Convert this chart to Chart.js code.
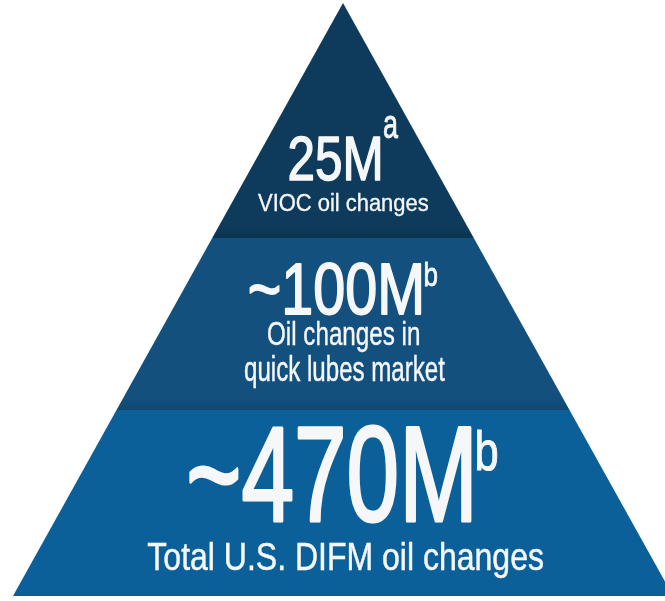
<!DOCTYPE html>
<html lang="en">
  <head>
    <meta charset="UTF-8" />
    <title>Oil change pyramid</title>
    <style>
      * {
        margin: 0;
        padding: 0;
        box-sizing: border-box;
      }

      body {
        background: #fff;
        width: 665px;
        height: 601px;
        overflow: hidden;
      }

      .wrapper {
        position: relative;
        width: 665px;
        height: 601px;
      }
    </style>
  </head>

  <body>
    <div class="wrapper">
      <canvas id="pyramid" width="665" height="601"></canvas>
    </div>

    <script src="https://cdn.jsdelivr.net/npm/chart.js@4/dist/chart.umd.min.js"></script>
    <script>
      // Layers, from the top of the pyramid down
      const values = ["25M", "~100M", "~470M"];
      const notes = ["a", "b", "b"];
      const captions = [
        ["VIOC oil changes"],
        ["Oil changes in", "quick lubes market"],
        ["Total U.S. DIFM oil changes"],
      ];

      // Where each layer starts and ends, measured up from the base
      const layerBottoms = [358, 186, 0];
      const layerTops = [593, 358, 186];

      // Shape and look
      const apex = 593;
      const halfBase = 330;
      const layerColors = ["#0e3a5c", "#13507e", "#0c6099"];
      const shadeColors = ["#0b3352", "#10476f", "#0c6099"];
      const fontFamily = '"Liberation Sans Narrow", "Liberation Sans", Arial, sans-serif';

      // Text boxes: x offsets from the centre line, heights from the base
      // [left, right, top, baseline, extra stroke]
      const valueBoxes = [
        [-53, 37, 460, 416, 1.2],
        [-93, 78, 333, 282, 1.4],
        [-153, 128, 170, 75, 2.2],
      ];
      const noteBoxes = [
        [41, 55, 480, 458, 0.6],
        [82, 94, 334, 310, 0.6],
        [134, 154, 166, 126, 0.8],
      ];
      const captionBoxes = [
        [[-85, 85, 403, 385, 0.3]],
        [
          [-75, 76, 275, 251, 0.3],
          [-98, 102, 241, 215, 0.3],
        ],
        [[-195, 200, 54, 26, 0.4]],
      ];

      const halfWidthAt = (h) => halfBase * (1 - h / apex);

      // Each layer is a filled trapezoid built from its bottom and top
      const datasets = values.map((v, i) => {
        const b = layerBottoms[i],
          t = layerTops[i];
        return {
          label: v,
          data: [
            { x: -halfWidthAt(b), y: b },
            { x: halfWidthAt(b), y: b },
            { x: halfWidthAt(t), y: t },
            { x: -halfWidthAt(t), y: t },
            { x: -halfWidthAt(b), y: b },
          ],
          showLine: true,
          fill: "shape",
          borderWidth: 0,
          borderColor: layerColors[i],
          pointRadius: 0,
          backgroundColor: (ctx) => {
            const chart = ctx.chart;
            if (!chart.chartArea) return layerColors[i];
            const y = chart.scales.y;
            const top = y.getPixelForValue(t),
              bottom = y.getPixelForValue(b);
            const g = chart.ctx.createLinearGradient(0, top, 0, bottom);
            const edge = Math.max(0, 1 - 12 / (bottom - top));
            g.addColorStop(0, layerColors[i]);
            g.addColorStop(edge, layerColors[i]);
            g.addColorStop(1, shadeColors[i]);
            return g;
          },
        };
      });

      // Draw one piece of text stretched into its box
      function drawFitted(chart, text, box) {
        const c = chart.ctx,
          sx = chart.scales.x,
          sy = chart.scales.y;
        const left = sx.getPixelForValue(box[0]),
          right = sx.getPixelForValue(box[1]),
          top = sy.getPixelForValue(box[2]),
          base = sy.getPixelForValue(box[3]);
        c.save();
        c.font = "100px " + fontFamily;
        c.textAlign = "left";
        c.textBaseline = "alphabetic";
        const m = c.measureText(text);
        const inkW = m.actualBoundingBoxLeft + m.actualBoundingBoxRight;
        const inkH = m.actualBoundingBoxAscent;
        const scaleX = (right - left) / inkW,
          scaleY = (base - top) / inkH;
        c.translate(left, base);
        c.scale(scaleX, scaleY);
        c.fillStyle = "#f5f7f9";
        c.fillText(text, m.actualBoundingBoxLeft, 0);
        // a little extra weight, the original face is heavier
        if (box[4]) {
          c.strokeStyle = "#f5f7f9";
          c.lineWidth = box[4] / scaleX;
          c.lineJoin = "round";
          c.strokeText(text, m.actualBoundingBoxLeft, 0);
        }
        c.restore();
      }

      const pyramidText = {
        id: "pyramidText",
        afterDatasetsDraw(chart) {
          values.forEach((v, i) => {
            drawFitted(chart, v, valueBoxes[i]);
            drawFitted(chart, notes[i], noteBoxes[i]);
            captions[i].forEach((line, j) => {
              drawFitted(chart, line, captionBoxes[i][j]);
            });
          });
        },
      };

      new Chart(document.getElementById("pyramid"), {
        type: "scatter",
        data: { datasets: datasets },
        plugins: [pyramidText],
        options: {
          responsive: false,
          animation: false,
          layout: { padding: 0 },
          scales: {
            x: { type: "linear", min: -343, max: 322, display: false },
            y: { type: "linear", min: -5, max: 596, display: false },
          },
          plugins: {
            legend: { display: false },
            tooltip: { enabled: false },
          },
        },
      });
    </script>
  </body>
</html>
